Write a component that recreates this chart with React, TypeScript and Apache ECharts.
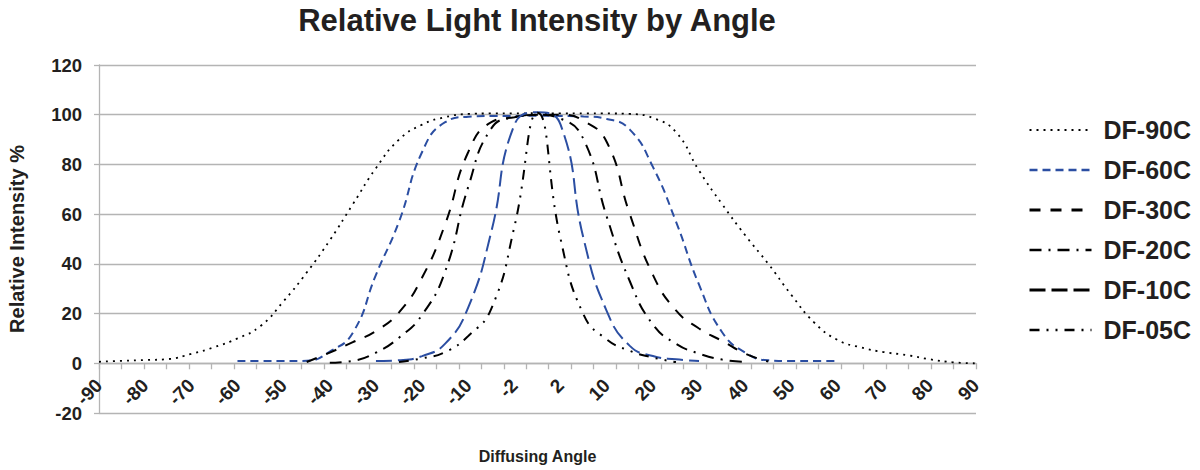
import React, { useEffect, useRef } from "react";
import * as echarts from "echarts";

// Category angles (degrees) along the x axis
const angles = [
  "-90", "-85", "-80", "-75", "-70", "-65", "-60", "-55", "-50", "-45",
  "-40", "-35", "-30", "-25", "-20", "-15", "-10", "-5", "-2", "0",
  "2", "5", "10", "15", "20", "25", "30", "35", "40", "45",
  "50", "55", "60", "65", "70", "75", "80", "85", "90",
];

const N = null;

const df90c = [
  0.6, 1.0, 1.3, 1.7, 3.8, 6.5, 10, 15, 25, 36.5,
  49.5, 64, 78.5, 90, 96, 99, 100.3, 100.5, 100.5, 100.6,
  100.5, 100.5, 100.5, 100.3, 98.7, 93, 77.5, 64, 51.5, 40,
  27.5, 16.3, 9.4, 6.4, 4.5, 3.3, 1.6, 0.4, 0,
];

const df60c = [
  N, N, N, N, N, N, 0.9, 0.9, 0.9, 1.0,
  4.7, 12.3, 35.6, 57, 85, 97, 99.2, 99.5, 99.5, 99.6,
  99.5, 99.3, 98.3, 94, 79, 57, 31.6, 12.5, 4.3, 1.2,
  0.9, 0.9, 0.9, N, N, N, N, N, N,
];

const df30c = [
  N, N, N, N, N, N, N, N, N, 0.5,
  4.3, 8.5, 13, 20.5, 34.5, 56, 85, 97, 99, 100,
  100, 97.5, 89, 60, 35.6, 21.3, 14, 9, 3.9, 0.7,
  N, N, N, N, N, N, N, N, N,
];

const df20c = [
  N, N, N, N, N, N, N, N, N, N,
  0.2, 1, 4.3, 10.3, 19.5, 37, 71, 94.5, 99, 100,
  98.4, 90, 59, 33, 15.6, 7.9, 3.9, 1.5, 0.6, N,
  N, N, N, N, N, N, N, N, N,
];

const df10c = [
  N, N, N, N, N, N, N, N, N, N,
  N, N, 0.9, 1.2, 2.9, 7.9, 22.5, 53, 96, 101,
  96, 50, 21, 7, 2.9, 1.6, 0.9, N, N, N,
  N, N, N, N, N, N, N, N, N,
];

const df05c = [
  N, N, N, N, N, N, N, N, N, N,
  N, N, N, 0.5, 2, 4.5, 11, 22, 55, 100.8,
  50, 19.5, 9.6, 5, 2.3, 0.5, N, N, N, N,
  N, N, N, N, N, N, N, N, N,
];

const seriesNames = ["DF-90C", "DF-60C", "DF-30C", "DF-20C", "DF-10C", "DF-05C"];
const seriesData = [df90c, df60c, df30c, df20c, df10c, df05c];

const Y_MIN = -20;
const Y_MAX = 120;
const Y_STEP = 20;

const FONT = "'Liberation Sans', Arial, Helvetica, sans-serif";
const TEXT = "#231f20";
const GRID = "#b4b4b4";
const BLUE = "#2b4ea2";
const BLACK = "#000000";

const lineColors = [BLACK, BLUE, BLACK, BLACK, BLUE, BLACK];
const legendColors = [BLACK, BLUE, BLACK, BLACK, BLACK, BLACK];
const dashes: number[][] = [
  [2, 5],
  [8, 5],
  [11, 10],
  [12, 7, 2, 7],
  [16, 6],
  [10, 7, 2, 7, 2, 7],
];
const widths = [1.8, 2, 2, 2, 2, 2];
const legendWidths = [2, 2.5, 3, 2.5, 3, 2.5];

const CHART_H = 470;
const GRID_TOP = 65;
const GRID_BOTTOM = 57;

export default function App() {
  const ref = useRef<HTMLDivElement>(null);

  useEffect(() => {
    if (!ref.current) return;
    const chart = echarts.init(ref.current, undefined, { renderer: "svg" });
    const lastIndex = angles.length - 1;
    const gridH = CHART_H - GRID_TOP - GRID_BOTTOM;
    // lift the labelled x axis from the bottom edge up to y = 0
    const zeroOffset = -gridH * (0 - Y_MIN) / (Y_MAX - Y_MIN);

    const option: any = {
      animation: false,
      backgroundColor: "#ffffff",
      title: {
        text: "Relative Light Intensity by Angle",
        left: 537,
        top: 5,
        textAlign: "center",
        padding: 0,
        textStyle: {
          fontFamily: FONT,
          fontSize: 31,
          lineHeight: 31,
          fontWeight: "bold",
          color: TEXT,
        },
      },
      legend: {
        orient: "vertical",
        left: 1028,
        top: 117.5,
        padding: 0,
        itemWidth: 62,
        itemHeight: 14,
        itemGap: 15,
        selectedMode: false,
        itemStyle: { opacity: 0 },
        textStyle: {
          fontFamily: FONT,
          fontSize: 25,
          lineHeight: 25,
          fontWeight: "bold",
          color: TEXT,
          padding: [0, 0, 0, 7],
        },
        data: seriesNames.map((name, i) => ({
          name,
          lineStyle: {
            color: legendColors[i],
            type: dashes[i],
            width: legendWidths[i],
          },
        })),
      },
      grid: {
        left: 99,
        right: 224,
        top: GRID_TOP,
        bottom: GRID_BOTTOM,
        containLabel: false,
        outerBoundsMode: "none",
      },
      xAxis: [
        {
          // data axis (categories), hidden
          type: "category",
          data: angles,
          boundaryGap: false,
          position: "bottom",
          axisLine: { show: false, onZero: false },
          axisTick: { show: false },
          axisLabel: { show: false },
          splitLine: { show: false },
        },
        {
          // label axis at y = 0
          type: "value",
          min: 0,
          max: lastIndex,
          interval: 2,
          position: "bottom",
          offset: zeroOffset,
          axisLine: {
            show: true,
            onZero: false,
            lineStyle: { color: GRID, width: 1.3 },
          },
          axisTick: { show: false },
          axisLabel: {
            rotate: 45,
            margin: 19,
            fontFamily: FONT,
            fontSize: 19,
            fontWeight: "bold",
            color: TEXT,
            formatter: (v: number) => angles[Math.round(v)] ?? "",
          },
          splitLine: { show: false },
          name: "Diffusing Angle",
          nameLocation: "middle",
          nameGap: 85,
          nameTextStyle: {
            fontFamily: FONT,
            fontSize: 16,
            lineHeight: 16,
            fontWeight: "bold",
            color: TEXT,
          },
        },
        {
          // tick-mark axis at y = 0
          type: "value",
          min: 0,
          max: 39,
          interval: 1,
          position: "bottom",
          offset: zeroOffset,
          axisLine: { show: false, onZero: false },
          axisTick: { show: true, length: 6, lineStyle: { color: GRID, width: 1.3 } },
          axisLabel: { show: false },
          splitLine: { show: false },
        },
      ],
      yAxis: {
        type: "value",
        min: Y_MIN,
        max: Y_MAX,
        interval: Y_STEP,
        axisLine: { show: true, onZero: false, lineStyle: { color: GRID, width: 1.3 } },
        axisTick: { show: true, length: 5, lineStyle: { color: GRID, width: 1.3 } },
        axisLabel: {
          margin: 17,
          fontFamily: FONT,
          fontSize: 18.5,
          fontWeight: "bold",
          color: TEXT,
        },
        splitLine: { show: true, lineStyle: { color: GRID, width: 1.3 } },
        name: "Relative Intensity %",
        nameLocation: "middle",
        nameGap: 72,
        nameRotate: 90,
        nameTextStyle: {
          fontFamily: FONT,
          fontSize: 20,
          lineHeight: 20,
          fontWeight: "bold",
          color: TEXT,
        },
      },
      series: seriesNames.map((name, i) => ({
        name,
        type: "line",
        xAxisIndex: 0,
        yAxisIndex: 0,
        data: seriesData[i],
        smooth: 0.5,
        symbol: "none",
        showSymbol: false,
        connectNulls: false,
        color: lineColors[i],
        lineStyle: {
          color: lineColors[i],
          width: widths[i],
          type: dashes[i],
        },
        z: 3,
      })),
    };

    chart.setOption(option);
    return () => {
      chart.dispose();
    };
  }, []);

  return (
    <div
      ref={ref}
      style={{ position: "fixed", left: 0, top: 0, width: 1200, height: CHART_H, background: "#fff" }}
    />
  );
}
